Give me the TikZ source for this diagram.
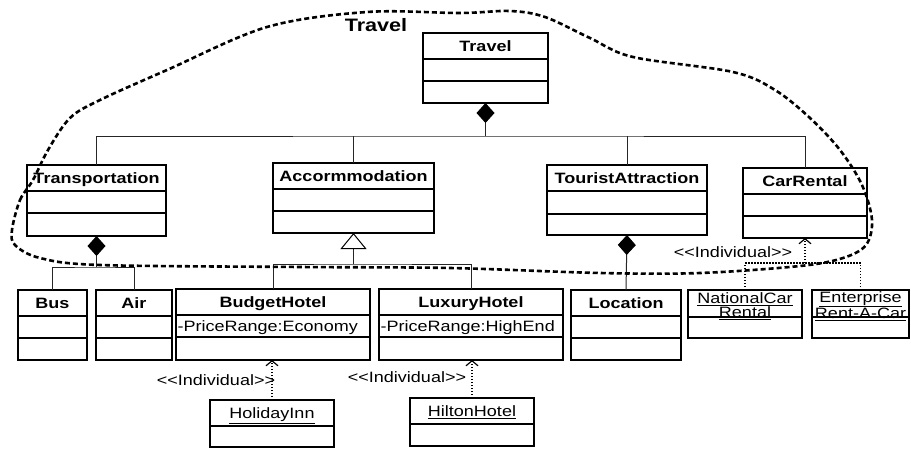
\documentclass[tikz,border=0pt]{standalone}
\usepackage{fontspec}
\setmainfont[FakeStretch=1.2, Ligatures=TeXOff]{Liberation Sans}
\usetikzlibrary{arrows.meta}
\tikzset{
 boxline/.style={draw=black, line width=1.5pt},
 cls/.style={boxline, inner sep=0pt, outer sep=0pt, rectangle},
 hdr/.style={inner sep=0pt, text height=11pt, text depth=0pt, font=\fontsize{15}{16}\selectfont\bfseries},
 txt/.style={inner sep=0pt, text height=11pt, text depth=0pt, font=\fontsize{15}{16}\selectfont},
 twol/.style={inner sep=0pt, align=center, font=\fontsize{15}{14}\selectfont},
 conn/.style={draw=black!85, line width=1pt},
 dia/.style={{Diamond[length=20pt,width=18pt,color=black,fill=black]}-},
 dep/.style={draw=black, line width=1.2pt, dash pattern=on 1.5pt off 1.5pt},
 barb/.style={-{Straight Barb[length=5pt,width=12pt,line width=1.2pt]}},
 bound/.style={draw=black, line width=2.6pt, dash pattern=on 5pt off 3pt},
}
\newcommand\clsbox[7]{%
 \node[cls, minimum width={#4pt-#2pt}, minimum height={#5pt-#3pt}] (#1) at ({(#2+#4)/2},{(#3+#5)/2}) {};
 \draw[boxline] (#2,#6) -- (#4,#6);
 \draw[boxline] (#2,#7) -- (#4,#7);}
\newcommand\objbox[6]{%
 \node[cls, minimum width={#4pt-#2pt}, minimum height={#5pt-#3pt}] (#1) at ({(#2+#4)/2},{(#3+#5)/2}) {};
 \draw[boxline] (#2,#6) -- (#4,#6);}
\begin{document}
\begin{tikzpicture}[x=1pt,y=-1pt]
\useasboundingbox (0,0) rectangle (911,450);
% classes
\clsbox{travel}{423}{33}{548}{103}{59}{81}
\node[hdr] (travel-t) at (485.5,46) {Travel};
\clsbox{transp}{27}{165}{166}{236}{191}{213}
\node[hdr] (transp-t) at (96.5,178) {Transportation};
\clsbox{accom}{273}{163}{434}{233}{189}{211}
\node[hdr] (accom-t) at (353.5,176) {Accormmodation};
\clsbox{tour}{547}{165}{707}{235}{191}{214}
\node[hdr] (tour-t) at (627,178) {TouristAttraction};
\clsbox{carr}{743}{168}{867}{238}{194}{216}
\node[hdr] (carr-t) at (805,181) {CarRental};
\clsbox{bus}{18}{290}{87}{360}{316}{338}
\node[hdr] (bus-t) at (52.5,303) {Bus};
\clsbox{air}{96}{290}{172}{360}{316}{338}
\node[hdr] (air-t) at (134,303) {Air};
\clsbox{budget}{176}{289}{370}{360}{315}{337}
\node[hdr] (budget-t) at (273,302) {BudgetHotel};
\node[txt, anchor=west] (budget-a) at (177.5,326) {-PriceRange:Economy};
\clsbox{lux}{379}{289}{563}{360}{315}{337}
\node[hdr] (lux-t) at (471,302) {LuxuryHotel};
\node[txt, anchor=west] (lux-a) at (380.5,326) {-PriceRange:HighEnd};
\clsbox{loc}{571}{290}{681}{360}{316}{338}
\node[hdr] (loc-t) at (626,303) {Location};
% objects
\objbox{nat}{688}{290}{802}{338}{317}
\node[twol] (nat-t) at (745,306) {\underline{NationalCar}\\\underline{Rental}};
\objbox{ent}{812}{290}{909}{338}{317}
\node[twol] (ent-t) at (860.5,306) {\underline{Enterprise}\\\underline{Rent-A-Car}};
\objbox{hol}{210}{400}{334}{447}{426}
\node[txt] (hol-t) at (272,413) {\underline{HolidayInn}};
\objbox{hil}{410}{398}{534}{446}{424}
\node[txt] (hil-t) at (472,411) {\underline{HiltonHotel}};
% composition Travel
\coordinate (tj) at (485.5,136);
\draw[conn, dia] (travel.south) -- (tj);
\draw[conn] (transp.north) |- (tj) -| (carr.north);
\draw[conn] (accom.north) -- (accom.north |- tj);
\draw[conn] (tour.north) -- (tour.north |- tj);
% composition Transportation
\coordinate (trj) at (96.5,267);
\draw[conn, dia] (transp.south) -- (trj);
\draw[conn] (bus.north) |- (trj) -| (air.north);
% generalization Accommodation
\coordinate (acj) at (353.5,264);
\draw[conn, {Triangle[open,length=16pt,width=26pt,fill=white,color=black]}-] (accom.south) -- (acj);
\draw[conn] (budget.north) |- (acj) -| (lux.north);
% composition TouristAttraction
\draw[conn, dia] (tour.south) -- (loc.north);
% dependencies
\coordinate (cj) at (805,263);
\draw[dep] (nat.north) |- (cj);
\draw[dep] (ent.north) |- (cj);
\draw[dep, barb] (cj) -- (carr.south);
\draw[dep, barb] (hol.north) -- (hol.north |- budget.south);
\draw[dep, barb] (hil.north) -- (hil.north |- lux.south);
\node[txt] (ind1) at (733,252) {<<Individual>>};
\node[txt] (ind2) at (216,380) {<<Individual>>};
\node[txt] (ind3) at (407,377) {<<Individual>>};
% package boundary
\draw[bound] plot[smooth cycle, tension=0.55] coordinates {
 (12,230) (20,200) (33,180) (48,150) (70,118) (100,100) (167,70) (267,27)
 (367,12) (460,13) (510,11) (545,17) (590,38) (633,57) (733,72) (775,90)
 (810,118) (840,150) (862,185) (872,220) (866,245) (843,258) (800,266)
 (700,273) (600,273) (450,268) (300,267) (100,265) (40,258) (15,245)};
\node[inner sep=0pt, text height=13pt, text depth=0pt, font=\fontsize{18}{20}\selectfont\bfseries] (pkg) at (376,25) {Travel};
\end{tikzpicture}
\end{document}
